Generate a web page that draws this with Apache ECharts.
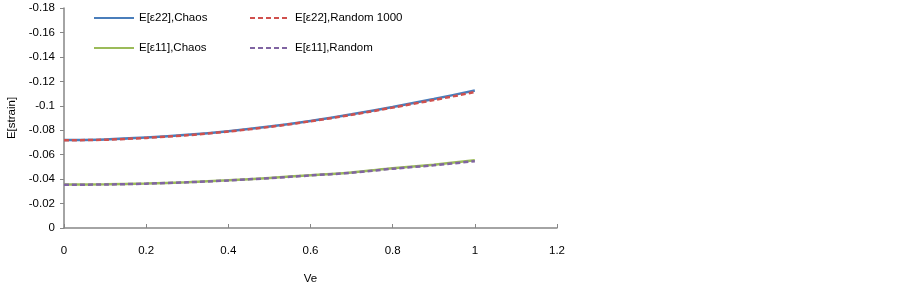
<!DOCTYPE html>
<html>
<head>
<meta charset="utf-8">
<script src="https://cdn.jsdelivr.net/npm/echarts@6/dist/echarts.min.js"></script>
<style>
  html, body { margin: 0; padding: 0; background: #fff; }
  #chart { width: 900px; height: 288px; }
</style>
</head>
<body>
<div id="chart"></div>
<script>
// x values (Ve)
var ve = [0, 0.1, 0.2, 0.3, 0.4, 0.5, 0.6, 0.7, 0.8, 0.9, 1.0];
// E[ε22]
var e22Chaos = [-0.0720, -0.0725, -0.0740, -0.0762, -0.0792, -0.0830, -0.0876, -0.0930, -0.0990, -0.1055, -0.1125];
var e22Random = [-0.0718, -0.0722, -0.0737, -0.0759, -0.0789, -0.0827, -0.0873, -0.0926, -0.0985, -0.1047, -0.1112];
// E[ε11]
var e11Chaos = [-0.0355, -0.0357, -0.0364, -0.0375, -0.0390, -0.0410, -0.0432, -0.0455, -0.0488, -0.0518, -0.0555];
var e11Random = [-0.0354, -0.0356, -0.0363, -0.0374, -0.0389, -0.0408, -0.0430, -0.0452, -0.0485, -0.0513, -0.0547];

function pairs(ys) {
  return ve.map(function (x, i) { return [x, ys[i]]; });
}

var font = "Liberation Sans";
var txt = { fontFamily: font, fontSize: 11.5, color: "#000" };
var chart = echarts.init(document.getElementById("chart"));

// 折线公共样式
function line(name, data, color, dashed) {
  return {
    name: name,
    type: "line",
    data: pairs(data),
    smooth: 0.3,
    showSymbol: false,
    symbol: "none",
    color: color,
    lineStyle: { color: color, width: 2.5, type: dashed ? [5, 3] : "solid" },
    z: dashed ? 3 : 2
  };
}

// 图例：两列
function legend(left, names) {
  return {
    left: left, top: 12, orient: "vertical", itemGap: 18, padding: 0,
    itemWidth: 40, itemHeight: 14,
    itemStyle: { opacity: 0 },
    textStyle: txt,
    data: names
  };
}

var option = {
  animation: false,
  grid: { left: 64, right: 343, top: 8, bottom: 60, outerBoundsMode: "none" },
  legend: [
    legend(93, ["E[ε22],Chaos", "E[ε11],Chaos"]),
    legend(249, ["E[ε22],Random 1000", "E[ε11],Random"])
  ],
  xAxis: {
    type: "value",
    min: 0, max: 1.2, interval: 0.2,
    name: "Ve",
    nameLocation: "middle",
    nameGap: 45,
    nameTextStyle: txt,
    axisLine: { lineStyle: { color: "#868686", width: 1.5 } },
    axisTick: { inside: true, length: 4, lineStyle: { color: "#868686" } },
    splitLine: { show: false },
    axisLabel: Object.assign({
      margin: 17,
      formatter: function (v) { return String(+v.toFixed(1)); }
    }, txt)
  },
  yAxis: {
    type: "value",
    min: -0.18, max: 0, interval: 0.02,
    inverse: true,
    name: "E[strain]",
    nameLocation: "middle",
    nameGap: 45,
    nameRotate: 90,
    nameTextStyle: txt,
    axisLine: { show: true, lineStyle: { color: "#868686", width: 1.5 } },
    axisTick: { show: true, length: 4, lineStyle: { color: "#868686" } },
    splitLine: { show: false },
    axisLabel: Object.assign({
      margin: 9,
      formatter: function (v) { return String(+v.toFixed(2)); }
    }, txt)
  },
  series: [
    line("E[ε22],Chaos", e22Chaos, "#4A7EBB", false),
    line("E[ε22],Random 1000", e22Random, "#D0504D", true),
    line("E[ε11],Chaos", e11Chaos, "#9BBB59", false),
    line("E[ε11],Random", e11Random, "#8064A2", true)
  ]
};

chart.setOption(option);
</script>
</body>
</html>
